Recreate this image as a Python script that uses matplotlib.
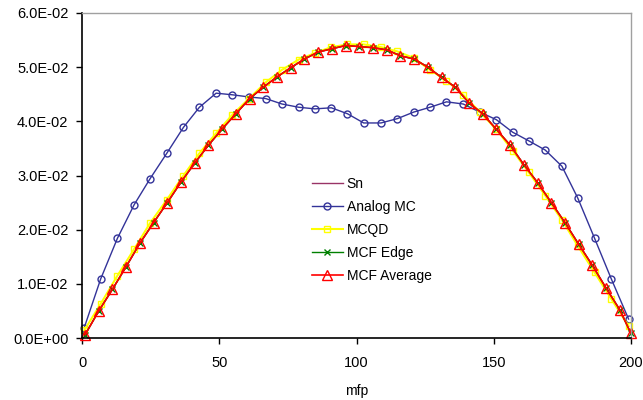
import matplotlib.pyplot as plt
from matplotlib.ticker import FuncFormatter

plt.rcParams['font.family'] = ['Liberation Sans', 'DejaVu Sans']

# coarse grid (Analog MC, MCQD)
mc_x = [0.7, 6.7, 12.8, 18.9, 24.7, 30.8, 36.9, 42.7, 48.8, 54.7, 60.8, 66.9,
        72.8, 78.9, 84.8, 90.8, 96.7, 102.6, 108.9, 114.9, 120.8, 126.8, 132.8,
        138.9, 145.0, 151.0, 156.9, 162.8, 168.8, 174.9, 180.7, 186.8, 192.9, 199.2]
analog_y = [0.0019, 0.0109, 0.0184, 0.0246, 0.0294, 0.0341, 0.0389, 0.0426, 0.0452,
            0.0449, 0.0445, 0.0442, 0.0432, 0.0426, 0.0423, 0.0425, 0.0414, 0.0397,
            0.0397, 0.0405, 0.0417, 0.0426, 0.0436, 0.0432, 0.0417, 0.0403, 0.0380,
            0.0364, 0.0347, 0.0317, 0.0258, 0.0184, 0.0109, 0.0035]
mcqd_y = [0.0014, 0.0063, 0.0115, 0.0164, 0.0212, 0.0255, 0.0300, 0.0341, 0.0378,
          0.0412, 0.0442, 0.0472, 0.0495, 0.0514, 0.0526, 0.0537, 0.0542, 0.0542,
          0.0537, 0.0529, 0.0517, 0.0495, 0.0475, 0.0449, 0.0417, 0.0385, 0.0346,
          0.0306, 0.0263, 0.0218, 0.0170, 0.0121, 0.0072, 0.0022]

# fine grid (Sn, MCF)
fine_x = [1, 6, 11, 16, 21, 26, 31, 36, 41, 46, 51, 56, 61, 66, 71, 76, 81, 86, 91,
          96, 101, 106, 111, 116, 121, 126, 131, 136, 141, 146, 151, 156, 161, 166,
          171, 176, 181, 186, 191, 196, 200]
sn_y = [0.0006, 0.0050, 0.0090, 0.0132, 0.0175, 0.0213, 0.0250, 0.0288, 0.0323,
        0.0356, 0.0386, 0.0414, 0.0442, 0.0463, 0.0482, 0.0499, 0.0515, 0.0528,
        0.0534, 0.0540, 0.0538, 0.0536, 0.0532, 0.0521, 0.0515, 0.0500, 0.0481,
        0.0463, 0.0434, 0.0414, 0.0385, 0.0356, 0.0320, 0.0287, 0.0250, 0.0213,
        0.0173, 0.0134, 0.0092, 0.0052, 0.0009]
edge_y = [0.0006, 0.0050, 0.0090, 0.0132, 0.0175, 0.0213, 0.0250, 0.0288, 0.0323,
          0.0356, 0.0386, 0.0414, 0.0442, 0.0463, 0.0482, 0.0499, 0.0515, 0.0528,
          0.0534, 0.0540, 0.0538, 0.0536, 0.0532, 0.0521, 0.0515, 0.0500, 0.0481,
          0.0463, 0.0434, 0.0414, 0.0385, 0.0356, 0.0320, 0.0287, 0.0250, 0.0213,
          0.0173, 0.0134, 0.0092, 0.0052, 0.0009]
avg_y = [0.0006, 0.0050, 0.0090, 0.0132, 0.0175, 0.0213, 0.0250, 0.0288, 0.0323,
         0.0356, 0.0386, 0.0414, 0.0442, 0.0463, 0.0482, 0.0499, 0.0515, 0.0528,
         0.0534, 0.0540, 0.0538, 0.0536, 0.0532, 0.0521, 0.0515, 0.0500, 0.0481,
         0.0463, 0.0434, 0.0414, 0.0385, 0.0356, 0.0320, 0.0287, 0.0250, 0.0213,
         0.0173, 0.0134, 0.0092, 0.0052, 0.0009]

fig = plt.figure(figsize=(6.43, 4.0), dpi=100)
ax = fig.add_axes([0.128, 0.155, 0.853, 0.8125])

ax.plot(fine_x, sn_y, color='#993366', lw=1, label='Sn', clip_on=False)
ax.plot(mc_x, analog_y, color='#333399', lw=1, marker='o', ms=5, mfc='none',
        mew=1, label='Analog MC', clip_on=False)
ax.plot(mc_x, mcqd_y, color='#ffff00', lw=1.5, marker='s', ms=5, mfc='none',
        mew=1, label='MCQD', clip_on=False)
ax.plot(fine_x, edge_y, color='#008000', lw=1, marker='x', ms=5, mew=1,
        label='MCF Edge', clip_on=False)
ax.plot(fine_x, avg_y, color='#ff0000', lw=1.2, marker='^', ms=6.5, mfc='none',
        mew=1, label='MCF Average', clip_on=False)

ax.set_xlim(0, 200)
ax.set_ylim(0, 0.06)
ax.set_xticks([0, 50, 100, 150, 200])
ax.set_yticks([0, 0.01, 0.02, 0.03, 0.04, 0.05, 0.06])
ax.yaxis.set_major_formatter(FuncFormatter(lambda v, p: f"{v:.1E}"))
ax.tick_params(direction='out', length=4, width=1, labelsize=10.5, colors='black')
ax.tick_params(axis='y', pad=6)
ax.tick_params(axis='x', pad=9)
ax.set_xlabel('mfp', fontsize=10, labelpad=10)

for s in ['left', 'bottom']:
    ax.spines[s].set_color('black')
    ax.spines[s].set_linewidth(1.2)
for s in ['top', 'right']:
    ax.spines[s].set_color('#a0a0a0')
    ax.spines[s].set_linewidth(1)

ax.legend(loc='center left', bbox_to_anchor=(0.4767, 0.426), bbox_transform=fig.transFigure,
          frameon=False, fontsize=10, handlelength=2.2, handletextpad=0.3,
          labelspacing=0.65, borderaxespad=0)

fig.savefig('out.png', dpi=100)
